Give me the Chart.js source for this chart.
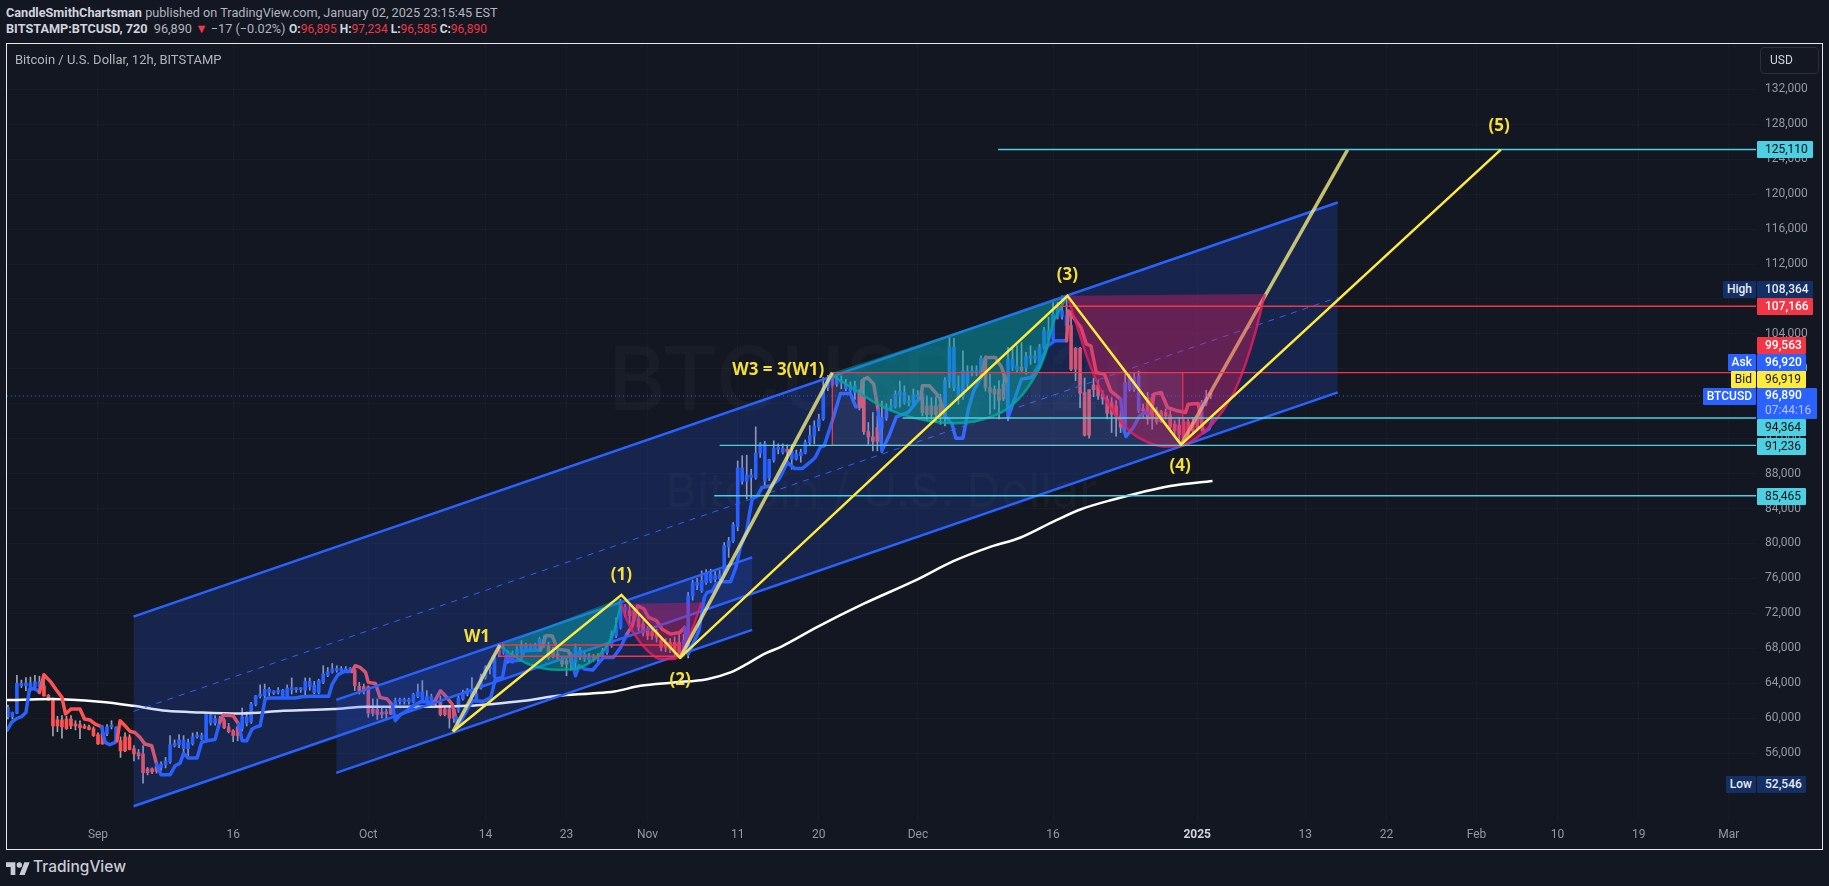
<!DOCTYPE html>
<html>
<head>
<meta charset="utf-8">
<title>BTCUSD 12h</title>
<script src="https://cdn.jsdelivr.net/npm/chart.js@4"></script>
<style>
    html, body { margin: 0; padding: 0; width: 1829px; height: 886px; overflow: hidden; background: #131722; font-family: Roboto, sans-serif; }
    .hdr { position: absolute; left: 6px; font-size: 12.7px; white-space: nowrap; color: #b2b5be; line-height: 16px; }
    .hdr b { color: #d1d4dc; font-weight: 700; }
    .hdr i { color: #f23645; font-style: normal; }
    #ohlc { left: 289px; font-size: 12px; }
    #frame { position: absolute; left: 6px; top: 43px; width: 1815px; height: 805px; border: 1px solid #e8e8e8; }
    #chartTitle { position: absolute; left: 15px; top: 52px; font-size: 13px; line-height: 16px; color: #b2b5be; }
    .mark { position: absolute; left: 0; width: 1763px; text-align: center; color: rgba(255,255,255,0.028); font-weight: 500; white-space: nowrap; font-family: Inter, sans-serif; }
    canvas { position: absolute; left: 7px; top: 44px; }
    #usd { position: absolute; left: 1760px; top: 47px; width: 48px; height: 25px; padding-left: 9px; line-height: 25px; border: 1px solid #2a2e39; border-radius: 4px; font-size: 12px; color: #d1d4dc; }
    .tag { position: absolute; left: 1757px; width: 41px; height: 17px; padding-left: 8px; line-height: 17px; font-size: 12px; border-radius: 1px; white-space: nowrap; }
    .wide { width: 47.5px; }
    .side { left: auto; right: 73px; width: auto; padding: 0 4px; text-align: right; }
    .cyan { background: #4dd0e1; color: #0c1118; }
    .navy { background: #132f63; color: #e8ecf4; font-weight: 500; }
    .red { background: #f23645; color: #fff; font-weight: 500; }
    .blue { background: #2962ff; color: #fff; font-weight: 500; }
    .yellow { background: #ffeb3b; color: #131722; }
    #last { width: 52px; height: 31px; line-height: 15px; }
    #last span { display: block; color: #b3c6ff; font-weight: 400; }
    #logo { position: absolute; left: 6px; top: 861px; }
    #logoText { position: absolute; left: 33px; top: 855px; font: 500 15.5px/24px Inter, sans-serif; color: #c9ccd4; }
</style>
</head>
<body>
<div class="hdr" style="top:5px"><b>CandleSmithChartsman</b> published on TradingView.com, January 02, 2025 23:15:45 EST</div>
<div class="hdr" style="top:21px"><b>BITSTAMP:BTCUSD, 720</b>&nbsp; 96,890 <i>&#9660;</i> &minus;17 (&minus;0.02%)</div>
<div class="hdr" id="ohlc" style="top:21px"><b>O:</b><i>96,895</i> <b>H:</b><i>97,234</i> <b>L:</b><i>96,585</i> <b>C:</b><i>96,890</i></div>

<div class="mark" style="top:328px;font-size:88px;line-height:100px">BTCUSD, 12h</div>
<div class="mark" style="top:460px;font-size:47px;line-height:60px">Bitcoin / U.S. Dollar</div>

<canvas id="btcChart" width="1815" height="805"></canvas>
<div id="frame"></div>
<div id="chartTitle">Bitcoin / U.S. Dollar, 12h, BITSTAMP</div>
<div id="usd">USD</div>

<div class="tag cyan wide" style="top:141px">125,110</div>
<div class="tag navy side" style="top:281px">High</div>
<div class="tag navy wide" style="top:281px">108,364</div>
<div class="tag red wide" style="top:298px">107,166</div>
<div class="tag red" style="top:337px">99,563</div>
<div class="tag blue side" style="top:354px">Ask</div>
<div class="tag blue" style="top:354px">96,920</div>
<div class="tag yellow side" style="top:371px">Bid</div>
<div class="tag yellow" style="top:371px">96,919</div>
<div class="tag blue side" style="top:388px">BTCUSD</div>
<div class="tag blue" id="last" style="top:388px">96,890<span>07:44:16</span></div>
<div class="tag cyan" style="top:419px">94,364</div>
<div class="tag cyan" style="top:438px">91,236</div>
<div class="tag cyan" style="top:488px">85,465</div>
<div class="tag navy side" style="top:776px">Low</div>
<div class="tag navy" style="top:776px">52,546</div>

<svg id="logo" width="24" height="14" viewBox="0 0 36 21"><path fill="#c9ccd4" d="M14 21H7V9H0V2h14v19zM28 21h-8l7.5-19h8L28 21z"/><circle fill="#c9ccd4" cx="20" cy="6" r="4"/></svg>
<div id="logoText">TradingView</div>

<script>
    // ─── Data (x = days since 1 Sep 2024, y = USD) ────────────────────────
    var firstBarDay = -10;
    var barStep = 0.5;

    var candleOpen = [
        60150,60150,60550,63700,63700,63550,63550,63650,63700,62600,62250,59800,59800,59900,59900,59250,59250,59000,59000,58800,
        58100,58300,58200,59000,57300,57400,57850,57850,56500,56050,55900,54200,54200,54450,54350,54650,55000,56850,56950,56500,
        56500,57050,57850,57650,57650,59450,59450,59700,59800,59000,58550,59000,58800,59450,59550,61550,62500,62550,62950,62850,
        62950,62550,62500,63250,63250,63250,63200,63600,62950,62950,64100,64900,65250,65450,65450,65350,65450,65500,63650,63600,
        63600,61050,61000,60600,60650,61400,61250,61900,61900,61900,61850,62500,61850,61850,61600,61850,61800,61050,61050,61000,
        60900,62200,62750,62450,62200,63450,64650,65650,64750,67350,67520,66500,66570,67330,67520,67900,67900,67900,68100,68290,
        68290,67710,67330,66760,66570,67140,66380,66950,66760,66650,66760,66760,66950,67520,68290,69430,70390,72300,72300,72300,
        71340,70770,70010,69930,69820,68940,68670,68670,68670,68670,67500,67300,74000,75200,74600,75500,75700,75900,76000,76550,
        79600,80250,81900,87100,87100,87550,87550,90350,87100,87500,89550,90800,90450,90700,89650,89650,90050,90350,91550,92300,
        93350,94250,97850,98150,98250,98350,97700,97500,97300,97300,96700,92800,92200,93300,93200,94350,95450,95650,97000,96150,
        96150,96200,96800,97100,95750,95750,95750,95950,94600,98550,97850,96700,96800,98250,99550,99550,99400,101200,97850,97650,
        97650,98250,98200,100100,99850,100200,100100,101200,101100,100150,102450,103400,103400,105900,106000,104950,104950,102350,102350,97300,
        97600,98150,98150,97100,96550,96150,95750,94600,93300,97650,97650,95200,95400,96700,96700,95200,95100,95000,94750,93650,
        93550,93950,93950,93850,94250,93100,95950,96895
    ];
    var candleHigh = [
        61500,60700,64900,64350,64650,64700,64900,64800,64800,62700,62300,60200,60300,60200,60300,59700,59700,59300,59200,59000,
        58300,59150,59250,59700,59000,57850,58300,58100,56850,56400,56850,54350,54300,54850,55000,55500,58000,57500,58100,58000,
        57600,58300,58400,58300,60500,60600,60300,60200,60000,59400,58700,59300,61150,60700,61800,62600,63800,63900,63500,63150,
        63500,63300,63800,64600,63500,63500,64600,64600,64200,64450,66000,65800,66250,66000,65900,65900,65800,65650,64100,63900,
        63700,62200,62200,61250,61050,61600,62300,62300,62300,62300,62850,63900,64300,63150,62750,62200,62550,61400,61400,61400,
        62550,63200,63400,64650,63150,65050,66000,66200,67150,68100,68500,67700,67700,68200,68860,68600,68500,68600,69250,69450,
        68700,68100,67700,67000,67000,67500,68500,68100,67600,67400,67300,67400,68000,68600,70000,71500,73600,73000,72900,72600,
        71800,71200,70500,70400,70200,69300,69100,69100,69300,69600,69600,74400,75800,76000,76850,77000,77050,76800,76900,80100,
        80700,82400,89450,90050,90100,88500,93350,91550,91700,89650,91750,91400,91400,91300,91300,90700,90800,91850,93500,94050,
        94800,99000,99250,99550,99300,99200,98800,98500,98600,97600,99000,93850,95000,94600,96300,96000,96500,97500,98600,98050,
        96900,97700,97500,97700,96900,96700,96900,97100,99000,103600,103500,99200,102050,100350,100350,100350,101500,101500,99400,98050,
        98650,99400,102450,102450,102650,103000,101900,102650,102050,102800,104750,105900,107600,107600,108350,108150,106650,102450,102450,98950,
        97600,98950,98650,97500,96900,96700,96350,95200,99400,99400,99600,99750,95950,97300,97100,95600,95250,95400,95200,94050,
        94450,94250,94250,94450,94600,96400,97550,97234
    ];
    var candleLow = [
        59900,59900,60500,63500,63150,63050,63400,63300,62500,62000,57950,58450,57700,58700,58800,58650,57650,58800,58650,57900,
        57000,57000,58000,58750,57200,55500,56150,56350,55100,55300,52550,53500,53650,53700,54000,54300,54800,56700,56600,55700,
        55700,56900,57700,57500,57500,59200,59200,59300,58800,58300,57300,57400,58500,59100,59400,61400,62300,62100,62550,62700,
        62750,62350,62300,62750,62950,62950,62550,63200,62750,62800,63950,64750,65150,65250,65250,65200,65250,63150,62750,62750,
        60100,60250,59850,60000,59900,60400,61150,61600,61600,61600,61750,62350,61750,61700,61400,61400,60250,60250,58850,59500,
        60650,62050,62550,62300,62000,63300,64450,65050,64600,67000,67300,66300,66300,67100,67300,67700,67700,67700,67900,68100,
        66700,66900,66550,65900,64850,65500,64850,66700,66500,66300,66500,66400,66700,67300,68100,69200,70200,71600,70800,71000,
        70000,69400,69000,69000,68700,67700,67600,67500,67100,66900,67100,66900,73500,74700,74400,75300,75500,75600,75800,76400,
        78400,80100,81450,86800,85100,85100,87350,89850,86600,87200,89300,90250,90250,89450,88500,89550,89300,90250,91300,91400,
        92900,94100,97500,97900,98000,97700,97500,97000,96500,95300,92500,91350,90600,90600,90400,94100,95200,95500,95600,95950,
        95750,95600,96350,94600,94050,94250,93850,93650,93450,97850,97500,95950,96500,97850,99200,99200,99000,97450,94800,95400,
        94250,96350,94050,99800,99550,99600,99400,100500,100700,99950,102250,103200,103200,105700,105700,104550,99800,98650,95550,92300,
        92050,96800,96500,95950,94250,92700,92300,92700,92900,97450,97400,95000,94450,93650,93100,93650,93850,94250,93100,92500,
        91550,91750,92150,92700,92900,92900,95750,96585
    ];
    var candleClose = [
        61200,60650,64000,64000,64050,64050,64150,64150,62550,62050,59100,59100,59000,58800,59100,59100,58900,58850,58700,58000,
        57050,57050,59000,59100,58900,56250,56250,56400,55900,55700,53750,53750,53850,53900,54750,55100,56950,57050,57500,57500,
        57200,57850,57950,58000,60400,60400,59950,59950,58900,58450,58000,58000,60150,60150,61600,62550,62750,63300,63300,62950,
        63200,63200,63450,63450,63300,63300,64200,64200,63750,64300,65050,65300,65650,65650,65650,65650,65650,63700,63150,63150,
        60550,60550,60400,60450,60500,60450,62000,62000,62000,62000,62700,63000,63000,62450,62450,62000,60400,60400,60000,60000,
        62300,62950,63200,63050,62750,64750,65800,65800,66900,67700,68100,67330,67330,67900,68290,68290,68170,68290,69050,69050,
        66950,67140,66950,66190,66190,66380,68100,67790,67330,67030,67030,67070,67710,68290,69620,70580,73400,72700,71730,71340,
        70390,69820,69430,69430,69240,68100,68100,67900,67520,67330,68900,74000,75500,75550,75750,76500,76500,76300,76500,79750,
        80300,82150,88650,88650,87850,87850,90350,91400,91400,89600,90900,90900,90900,90550,90600,90250,90450,91550,92350,93450,
        94250,97850,98950,98950,99000,98650,98250,98050,98050,95550,92800,92200,91700,91700,94450,95550,95800,97100,97400,97300,
        96350,97050,97050,95000,94750,94800,94750,94600,98650,102500,102500,98050,99750,99750,99750,99850,101200,97850,97300,97100,
        96400,96550,101100,101100,100350,99800,101400,101500,101500,102500,104350,104350,106250,106850,106650,106100,99950,99950,97200,92400,
        92400,97600,96900,96550,94900,94800,94600,93300,98450,99200,99000,99200,95200,94250,94250,93950,93950,94600,93300,92900,
        92450,92150,92450,92900,93300,96150,96800,96890
    ];

    // Trailing trend line, blue except inside the red runs below
    var trailDays = [
        -10.07,-9.6,-9,-8.5,-8,-7.6,-7.2,-6.8,-6.5,-6,-5.3,-4.7,-4,-3.6,-3,-2,-1.5,-0.9,-0.3,0.4,0.8,1.3,1.9,2.1,2.45,3,3.55,4.1,4.67,5.2,5.96,6.5,7,8,8.55,9.1,9.5,10,11,11.5,12.07,13,13.5,13.9,15,15.6,16,16.5,17.1,17.6,18,18.55,18.9,20.4,21.9,22.6,23.75,25.6,26,26.6,27.3,28.2,28.55,29.1,29.7,30,30.8,31.3,32.1,32.7,33,33.55,34.3,35,35.8,36.5,37.2,37.6,38,38.55,39.3,39.7,40,41,41.55,42.8,43.6,44.1,44.9,45.4,45.8,46.9,47.3,49.1,49.7,50.4,51,52.2,52.5,53,53.4,54,54.9,56.1,57.2,58,58.7,59.3,59.9,60.6,61.1,62,62.6,63.5,64.6,65.1,65.5,66.2,66.7,67.3,67.6,68.2,68.6,69.1,70.2,70.8,71.3,72,72.3,72.6,73.2,73.7,74.7,75.6,76.5,77.3,78.2,79,79.6,80.2,80.6,81.5,82.4,83.5,84.1,84.6,84.8,85.4,86.1,86.6,87,87.8,88.6,89.9,91,91.3,91.5,92.3,93.4,94,94.8,95.2,96,96.6,97.2,98,98.5,99.6,100.3,100.9,101,101.8,102.5,103.6,104.5,105.4,106.2,107.5,107.7,109.1,109.7,110.2,110.8,111.7,112.4,113.5,113.9,114.1,114.9,115.6,116.1,116.9,117.2,118,118.7,119.8,120.7,121,122.1,122.7,123.3,123.7
    ];
    var trailPrices = [
        58630,59510,59970,60160,60650,63330,63400,63220,62950,64970,64210,63330,62370,60460,61040,61040,59890,59780,59320,59010,57220,56950,57220,57410,59700,59130,58480,58360,57790,57030,56840,54730,53510,53510,54540,54810,55960,55420,55420,57220,57410,57560,59510,60350,60270,59320,57410,57410,58750,59010,59120,62180,62300,62300,62300,62450,62490,62490,63900,64930,65350,65350,66000,65800,65240,64090,63970,62370,62180,61420,59700,60380,60840,61420,61880,61880,61610,62370,63130,62560,61610,60080,59130,61030,62000,61920,62370,64470,64670,67520,66490,66640,67710,67790,69430,69430,67900,67710,66950,64850,66000,65620,65500,66950,66950,68090,69620,70570,72870,72490,71530,71150,70190,69620,69810,70380,67330,68860,70000,73810,74380,74570,75340,75610,75610,77250,79540,81450,83360,85080,85460,86420,86610,87370,89280,88590,88590,89280,89850,91080,91180,94050,97180,97180,95650,95650,98630,99010,98250,95190,90610,92330,94500,95000,96420,96640,98060,98060,96720,94620,93660,92060,92060,95390,97480,99010,101300,101300,100160,98250,94430,96720,98820,99010,100540,102640,103210,103210,106650,104740,102830,102640,99580,99390,97480,96530,92900,92250,93280,94620,94990,94850,97100,97290,95570,95190,94990,95950,96030,92700,93100,94120
    ];
    var trailRedStarts = [-6.5, 2.1, 13.5, 28.2, 37.2, 49.1, 58.7, 84.6, 91.3, 98, 107.5, 116.9];
    var trailRedEnds = [0.4, 6.5, 15.6, 32.7, 39.7, 52.5, 65.1, 86.6, 94, 100.9, 113.5, 122.7];

    // Slow moving average
    var maDays = [-10.1,-5.3,0.2,3.9,7.6,11.3,15.8,20.6,26.1,29.9,35.4,41,43.6,47.3,51,54.7,57.3,60.2,63.9,67.6,70.2,72,73.9,75.8,79.8,85,90.6,95,98.8,102.4,106.2,109.1,112.4,119,123.7];
    var maPrices = [62060,62180,61870,61410,60840,60650,60530,60840,61030,61300,61300,61410,61600,61980,62550,62820,63050,63700,64080,64460,65230,66180,67330,68170,70420,73100,75710,78000,79530,80680,82590,83920,84950,86590,87160];

    // Drawn channels
    var bigChannelDays = [3.94, 137.6];
    var bigUpper = [71620, 119050];
    var bigMiddle = [60770, 108180];
    var bigLower = [49900, 97310];
    var smallChannelDays = [26.44, 72.6];
    var smallUpper = [62090, 78410];
    var smallLower = [53730, 70100];

    // Wave count legs
    var waveDays = [39.4, 58.1, 64.6, 107.6, 120.2, 155.7];
    var wavePrices = [58460, 74110, 66900, 108364, 91320, 125110];
    var leg1Days = [39.4, 44.6];
    var leg1Prices = [58460, 68364];
    var leg3Days = [64.6, 81.5];
    var leg3Prices = [66900, 99563];
    var leg5Days = [120.2, 138.7];
    var leg5Prices = [91320, 125110];

    // Horizontal levels
    var levelPrices = [125110, 107166, 99563, 94364, 91236, 85465];
    var levelStarts = [99.9, 106.3, 81.5, 89.3, 69, 68.4];
    var lastPrice = 96890;

    // Boxes
    var box1Days = [44.6, 64.6];
    var box1Prices = [68364, 67090];
    var box3Days = [81.5, 120.4];
    var box3Prices = [99563, 91236];

    // Rounded arcs, one closing chord each
    var tealArc1Days = [44.6, 46.1, 47.8, 49.5, 51, 52.8, 54.3, 56.1, 57.3, 58];
    var tealArc1Prices = [68283, 67137, 66182, 65685, 65533, 65609, 66182, 67710, 70002, 72867];
    var tealChord1Days = [44.6, 58];
    var tealChord1Prices = [68364, 73745];
    var pinkArc1Days = [58, 58.9, 59.9, 61, 62.4, 63.9, 65, 65.9, 67];
    var pinkArc1Prices = [73058, 70766, 69047, 67710, 66755, 66755, 67900, 70002, 73249];
    var pinkChord1Days = [58, 67];
    var pinkChord1Prices = [73058, 73249];
    var tealArc2Days = [81.5, 83.9, 86.5, 89.1, 92.1, 95, 98, 101, 103.2, 105, 106.1, 106.5, 107.5];
    var tealArc2Prices = [99200, 97675, 95956, 94810, 94046, 93779, 94160, 95498, 97866, 101304, 105506, 106267, 108290];
    var tealChord2Days = [81.5, 107.5];
    var tealChord2Prices = [99563, 108290];
    var pinkArc2Days = [107.6, 108.7, 110.2, 112.1, 113.9, 115.8, 118.4, 120.1, 122, 124.3, 126.5, 128.4, 129.5];
    var pinkArc2Prices = [108365, 104736, 100152, 95950, 93467, 91940, 91099, 91175, 92130, 94420, 98240, 103972, 108556];
    var pinkChord2Days = [107.6, 129.5];
    var pinkChord2Prices = [108365, 108556];

    // Wave labels
    var waveLabels = ['W1', '(1)', '(2)', 'W3 = 3(W1)', '(3)', '(4)', '(5)'];
    var waveLabelDays = [42.06, 58.1, 64.6, 75.5, 107.6, 120.1, 155.5];
    var waveLabelPrices = [69300, 76400, 64380, 99870, 110670, 88880, 127800];

    // Axis ticks
    var priceTicks = [56000,60000,64000,68000,72000,76000,80000,84000,88000,92000,96000,100000,104000,108000,112000,116000,120000,124000,128000,132000];
    var dayTicks = [0, 15, 30, 43, 52, 61, 71, 80, 91, 106, 122, 134, 143, 153, 162, 171, 181];
    var dayTickLabels = ['Sep', '16', 'Oct', '14', '23', 'Nov', '11', '20', 'Dec', '16', '2025', '13', '22', 'Feb', '10', '19', 'Mar'];

    // Colors
    var tvBlue = '#2962ff';
    var tvRed = '#f23645';
    var trailRed = '#ff5252';
    var tvCyan = '#4dd0e1';
    var waveYellow = '#ffeb3b';
    var paleYellow = 'rgba(246, 240, 130, 0.78)';
    var channelFill = 'rgba(41, 98, 255, 0.19)';
    var tealFill = 'rgba(0, 178, 160, 0.42)';
    var tealEdge = 'rgba(0, 170, 150, 0.85)';
    var pinkFill = 'rgba(233, 30, 99, 0.37)';
    var pinkEdge = 'rgba(233, 30, 99, 0.8)';

    function zip(xs, ys) {
        return xs.map(function (x, i) { return { x: x, y: ys[i] }; });
    }

    function lineSet(xs, ys, color, width, order, extra) {
        return Object.assign({
            type: 'line',
            data: zip(xs, ys),
            borderColor: color,
            borderWidth: width,
            pointRadius: 0,
            fill: false,
            order: order
        }, extra || {});
    }

    // ─── Assemble datasets ────────────────────────────────────────────────
    var datasets = [];
    function add(set) {
        datasets.push(set);
        return datasets.length - 1;
    }

    var wickData = candleHigh.map(function (h, i) {
        return { x: firstBarDay + i * barStep, y: [candleLow[i], h] };
    });
    var bodyData = candleOpen.map(function (o, i) {
        return { x: firstBarDay + i * barStep, y: [o, candleClose[i]] };
    });

    add({ type: 'bar', data: wickData, grouped: false, barThickness: 1, backgroundColor: 'rgba(196, 200, 210, 0.8)', order: 100 });
    add({
        type: 'bar', data: bodyData, grouped: false, barThickness: 3, minBarLength: 2, order: 99,
        backgroundColor: candleOpen.map(function (o, i) { return candleClose[i] >= o ? tvBlue : trailRed; })
    });

    add(lineSet(maDays, maPrices, '#ffffff', 2.5, 98, { cubicInterpolationMode: 'monotone' }));
    add(lineSet(trailDays, trailPrices, tvBlue, 3.5, 97, {
        borderJoinStyle: 'round',
        borderCapStyle: 'round',
        segment: {
            borderColor: function (c) {
                var day = trailDays[c.p0DataIndex];
                for (var i = 0; i < trailRedStarts.length; i++) {
                    if (day >= trailRedStarts[i] && day < trailRedEnds[i]) return trailRed;
                }
                return tvBlue;
            }
        }
    }));

    // Big channel
    var bigLowerIdx = add(lineSet(bigChannelDays, bigLower, tvBlue, 2.5, 60));
    add(lineSet(bigChannelDays, bigUpper, tvBlue, 2.5, 60, { fill: { target: bigLowerIdx }, backgroundColor: channelFill }));
    add(lineSet(bigChannelDays, bigMiddle, tvBlue, 1, 60, { borderDash: [6, 6] }));

    // Small channel
    var smallLowerIdx = add(lineSet(smallChannelDays, smallLower, tvBlue, 2.5, 59));
    add(lineSet(smallChannelDays, smallUpper, tvBlue, 2.5, 59, { fill: { target: smallLowerIdx }, backgroundColor: channelFill }));

    // Box around the wave 3 range
    var box3TopIdx = add(lineSet(box3Days, [box3Prices[0], box3Prices[0]], 'rgba(0,0,0,0)', 0, 55));
    add(lineSet(box3Days, [box3Prices[1], box3Prices[1]], tvRed, 1.3, 55, { fill: { target: box3TopIdx }, backgroundColor: 'rgba(120, 165, 230, 0.12)' }));
    add(lineSet([box3Days[0], box3Days[0]], box3Prices, tvRed, 1.3, 55));
    add(lineSet([box3Days[1], box3Days[1]], box3Prices, tvRed, 1.3, 55));

    // Arcs
    function addArc(chordX, chordY, arcX, arcY, fillColor, edge) {
        var chord = add(lineSet(chordX, chordY, 'rgba(0,0,0,0)', 0, 50));
        add(lineSet(arcX, arcY, edge, 2.5, 50, { cubicInterpolationMode: 'monotone', fill: { target: chord }, backgroundColor: fillColor }));
    }
    addArc(tealChord1Days, tealChord1Prices, tealArc1Days, tealArc1Prices, tealFill, tealEdge);
    addArc(pinkChord1Days, pinkChord1Prices, pinkArc1Days, pinkArc1Prices, pinkFill, pinkEdge);
    addArc(tealChord2Days, tealChord2Prices, tealArc2Days, tealArc2Prices, tealFill, tealEdge);
    addArc(pinkChord2Days, pinkChord2Prices, pinkArc2Days, pinkArc2Prices, pinkFill, pinkEdge);

    // Levels
    var axisEnd = 184.02;
    var axisStart = -10.1;
    levelPrices.forEach(function (price, i) {
        var isRed = price === 107166 || price === 99563;
        add(lineSet([levelStarts[i], axisEnd], [price, price], isRed ? tvRed : tvCyan, 1.4, 40));
    });
    add(lineSet([axisStart, axisEnd], [lastPrice, lastPrice], tvBlue, 1, 40, { borderDash: [1, 3] }));

    // Small wave 1 box
    add(lineSet(box1Days, [box1Prices[0], box1Prices[0]], tvRed, 1.5, 35));
    add(lineSet(box1Days, [box1Prices[1], box1Prices[1]], tvRed, 1.5, 35));
    add(lineSet([box1Days[0], box1Days[0]], box1Prices, tvRed, 1.5, 35));

    // Wave legs
    add(lineSet(leg1Days, leg1Prices, paleYellow, 3.5, 30));
    add(lineSet(leg3Days, leg3Prices, paleYellow, 3.5, 30));
    add(lineSet(leg5Days, leg5Prices, paleYellow, 3.5, 52));
    add(lineSet(waveDays, wavePrices, waveYellow, 2.5, 10));

    // ─── Wave labels plugin ───────────────────────────────────────────────
    var waveLabelPlugin = {
        id: 'waveLabels',
        afterDatasetsDraw: function (chart) {
            var ctx = chart.ctx;
            ctx.save();
            ctx.font = '700 17px "Open Sans", sans-serif';
            ctx.fillStyle = '#f6df3a';
            ctx.textAlign = 'center';
            ctx.textBaseline = 'middle';
            waveLabels.forEach(function (text, i) {
                ctx.fillText(text, chart.scales.x.getPixelForValue(waveLabelDays[i]), chart.scales.y.getPixelForValue(waveLabelPrices[i]));
            });
            ctx.restore();
        }
    };

    // Tick labels must not push the plot area in from the canvas edges
    function noAxisPadding(axis) {
        axis.paddingTop = 0;
        axis.paddingBottom = 0;
        axis.paddingLeft = 0;
        axis.paddingRight = 0;
    }

    // ─── Chart ────────────────────────────────────────────────────────────
    var gridColor = 'rgba(240, 243, 250, 0.025)';
    new Chart(document.getElementById('btcChart').getContext('2d'), {
        type: 'bar',
        data: { datasets: datasets },
        plugins: [waveLabelPlugin],
        options: {
            responsive: false,
            animation: false,
            devicePixelRatio: 1,
            layout: { padding: 0 },
            plugins: {
                legend: { display: false },
                tooltip: { enabled: false }
            },
            scales: {
                x: {
                    type: 'linear',
                    offset: false,
                    min: axisStart,
                    max: axisEnd,
                    border: { display: false },
                    grid: { color: gridColor, offset: false, drawTicks: false },
                    afterBuildTicks: function (axis) {
                        axis.ticks = dayTicks.map(function (v) { return { value: v }; });
                    },
                    afterFit: function (axis) { axis.height = 29; noAxisPadding(axis); },
                    ticks: {
                        autoSkip: false,
                        maxRotation: 0,
                        padding: 8,
                        color: function (c) { return c.tick && c.tick.value === 122 ? '#d1d4dc' : '#9598a1'; },
                        font: function (c) {
                            return { family: 'Roboto', size: 12, weight: c.tick && c.tick.value === 122 ? 'bold' : 'normal' };
                        },
                        callback: function (value) { return dayTickLabels[dayTicks.indexOf(value)]; }
                    }
                },
                y: {
                    type: 'linear',
                    position: 'right',
                    beginAtZero: false,
                    min: 48331,
                    max: 137199,
                    border: { display: false },
                    grid: { color: gridColor, drawTicks: false },
                    afterBuildTicks: function (axis) {
                        axis.ticks = priceTicks.map(function (v) { return { value: v }; });
                    },
                    afterFit: function (axis) { axis.width = 66; noAxisPadding(axis); },
                    ticks: {
                        autoSkip: false,
                        padding: 9,
                        color: '#9598a1',
                        font: { family: 'Roboto', size: 12 },
                        callback: function (value) { return value.toLocaleString('en-US'); }
                    }
                }
            }
        }
    });
</script>
</body>
</html>
